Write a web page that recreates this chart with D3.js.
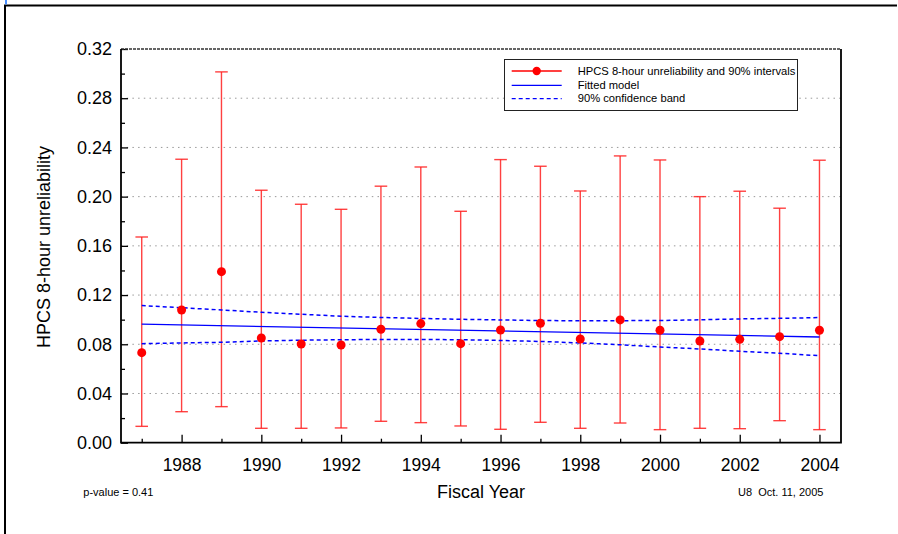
<!DOCTYPE html>
<html>
<head>
<meta charset="utf-8">
<script src="https://cdn.jsdelivr.net/npm/d3@7"></script>
<style>
  body { margin: 0; background: #fff; }
  svg { display: block; font-family: "Liberation Sans", Arial, sans-serif; }
</style>
</head>
<body>
<svg id="chart" width="898" height="534"></svg>
<script>
// values
var years = [1987, 1988, 1989, 1990, 1991, 1992, 1993, 1994, 1995,
             1996, 1997, 1998, 1999, 2000, 2001, 2002, 2003, 2004];
var estimates = [0.0732, 0.1079, 0.1390, 0.0851, 0.0802, 0.0794, 0.0922, 0.0968, 0.0805,
                 0.0916, 0.0971, 0.0843, 0.0998, 0.0914, 0.0827, 0.0840, 0.0862, 0.0914];
var upper90 = [0.1672, 0.2304, 0.3014, 0.2052, 0.1938, 0.1897, 0.2085, 0.2241, 0.1881,
               0.2301, 0.2247, 0.2046, 0.2331, 0.2298, 0.2000, 0.2044, 0.1906, 0.2296];
var lower90 = [0.0133, 0.0252, 0.0293, 0.0117, 0.0117, 0.0120, 0.0174, 0.0163, 0.0136,
               0.0109, 0.0166, 0.0117, 0.0160, 0.0106, 0.0117, 0.0114, 0.0179, 0.0106];
var fitYears = [1987, 2004];
var fitValues = [0.0963, 0.0859];
var bandUpper = [0.1115, 0.1097, 0.1079, 0.1060, 0.1044, 0.1028, 0.1018, 0.1010, 0.1003,
                 0.0998, 0.0993, 0.0991, 0.0992, 0.0993, 0.0999, 0.1006, 0.1011, 0.1017];
var bandLower = [0.0805, 0.0811, 0.0816, 0.0827, 0.0833, 0.0837, 0.0839, 0.0839, 0.0837,
                 0.0831, 0.0823, 0.0811, 0.0796, 0.0778, 0.0762, 0.0743, 0.0727, 0.0707];
var yTicks = [0, 0.04, 0.08, 0.12, 0.16, 0.20, 0.24, 0.28, 0.32];
var yMinor = [0.02, 0.06, 0.10, 0.14, 0.18, 0.22, 0.26, 0.30];
var xLabelled = [1988, 1990, 1992, 1994, 1996, 1998, 2000, 2002, 2004];
var legendLabels = ["HPCS 8-hour unreliability and 90% intervals", "Fitted model", "90% confidence band"];

var svg = d3.select("#chart");

var plotLeft = 121, plotRight = 841, plotTop = 49, plotBottom = 442.7;

var x = d3.scaleLinear().domain([1986.48, 2004.54]).range([plotLeft, plotRight]);
var y = d3.scaleLinear().domain([0, 0.32]).range([plotBottom, plotTop]);

// outer frame
svg.append("path")
    .attr("d", "M5,534V5.5H897")
    .attr("fill", "none")
    .attr("stroke", "#000")
    .attr("stroke-width", 2);
svg.append("line")
    .attr("x1", 6).attr("x2", 6).attr("y1", 0).attr("y2", 4.5)
    .attr("stroke", "#4a90ff").attr("stroke-width", 2);

// grid
svg.append("g")
  .selectAll("line")
    .data(yTicks.slice(1, -1))
  .enter().append("line")
    .attr("x1", plotLeft).attr("x2", plotRight)
    .attr("y1", function(d) { return y(d); })
    .attr("y2", function(d) { return y(d); })
    .attr("stroke", "#999")
    .attr("stroke-width", 1)
    .attr("stroke-dasharray", "1.5,4.2");

// axes
var yAxis = svg.append("g")
    .attr("transform", "translate(" + plotLeft + ",0)")
    .call(d3.axisLeft(y).tickValues(yTicks).tickSize(-7).tickPadding(9)
      .tickFormat(d3.format(".2f")));
yAxis.select(".domain").remove();
yAxis.selectAll("text").style("font-size", "18px").attr("fill", "#000");
yAxis.selectAll("line").attr("stroke-width", 1.3);

var yAxisMinor = svg.append("g")
    .attr("transform", "translate(" + plotLeft + ",0)")
    .call(d3.axisLeft(y).tickValues(yMinor).tickSize(-4).tickFormat(""));
yAxisMinor.select(".domain").remove();
yAxisMinor.selectAll("line").attr("stroke-width", 1.3);

var xAxis = svg.append("g")
    .attr("transform", "translate(0," + plotBottom + ")")
    .call(d3.axisBottom(x).tickValues(xLabelled).tickSize(-8).tickPadding(15.6)
      .tickFormat(d3.format("d")));
xAxis.select(".domain").remove();
xAxis.selectAll("text").style("font-size", "17.5px").attr("fill", "#000");
xAxis.selectAll("line").attr("stroke-width", 1.3);

var xAxisMinor = svg.append("g")
    .attr("transform", "translate(0," + plotBottom + ")")
    .call(d3.axisBottom(x).tickValues(years.filter(function(d) { return d % 2; }))
      .tickSize(-4).tickFormat(""));
xAxisMinor.select(".domain").remove();
xAxisMinor.selectAll("line").attr("stroke-width", 1.3);

// plot border
svg.append("line")
    .attr("x1", plotLeft).attr("x2", plotRight).attr("y1", plotTop).attr("y2", plotTop)
    .attr("stroke", "#333").attr("stroke-width", 1.3).attr("stroke-dasharray", "3,1");
svg.append("path")
    .attr("d", "M" + plotLeft + "," + plotTop + "V" + plotBottom + "H" + plotRight + "V" + plotTop)
    .attr("fill", "none")
    .attr("stroke", "#000")
    .attr("stroke-width", 1.8);

// error bars
var bars = svg.append("g")
  .selectAll("g")
    .data(years)
  .enter().append("g")
    .attr("stroke", "#ff2020")
    .attr("stroke-width", 1.4)
    .attr("stroke-opacity", 0.85);

bars.append("line")
    .attr("x1", function(d) { return x(d); })
    .attr("x2", function(d) { return x(d); })
    .attr("y1", function(d, i) { return y(upper90[i]); })
    .attr("y2", function(d, i) { return y(lower90[i]); });
bars.append("line")
    .attr("x1", function(d) { return x(d) - 6.3; })
    .attr("x2", function(d) { return x(d) + 6.3; })
    .attr("y1", function(d, i) { return y(upper90[i]); })
    .attr("y2", function(d, i) { return y(upper90[i]); });
bars.append("line")
    .attr("x1", function(d) { return x(d) - 6.3; })
    .attr("x2", function(d) { return x(d) + 6.3; })
    .attr("y1", function(d, i) { return y(lower90[i]); })
    .attr("y2", function(d, i) { return y(lower90[i]); });

// fitted model and band
svg.append("path")
    .datum(fitYears)
    .attr("fill", "none")
    .attr("stroke", "#0000ff")
    .attr("stroke-width", 1.3)
    .attr("d", d3.line()
      .x(function(d) { return x(d); })
      .y(function(d, i) { return y(fitValues[i]); }));

[bandUpper, bandLower].forEach(function(band) {
  svg.append("path")
      .datum(years)
      .attr("fill", "none")
      .attr("stroke", "#0000ff")
      .attr("stroke-width", 1.5)
      .attr("stroke-dasharray", "4,3")
      .attr("d", d3.line()
        .x(function(d) { return x(d); })
        .y(function(d, i) { return y(band[i]); }));
});

// points
svg.append("g")
  .selectAll("circle")
    .data(years)
  .enter().append("circle")
    .attr("cx", function(d) { return x(d); })
    .attr("cy", function(d, i) { return y(estimates[i]); })
    .attr("r", 4.5)
    .attr("fill", "#ff0000");

// legend
var legend = svg.append("g");
legend.append("rect")
    .attr("x", 504.5).attr("y", 59.5)
    .attr("width", 293).attr("height", 51)
    .attr("fill", "#fff")
    .attr("stroke", "#222")
    .attr("stroke-width", 1);

var rowY = [71, 85.3, 98.7];
var item = legend.selectAll(".item")
    .data(legendLabels)
  .enter().append("g")
    .attr("class", "item")
    .attr("transform", function(d, i) { return "translate(0," + rowY[i] + ")"; });

item.append("line")
    .attr("x1", 511.7).attr("x2", 561.7)
    .attr("stroke", function(d, i) { return i == 0 ? "#ff0000" : "#0000ff"; })
    .attr("stroke-width", 1.3)
    .attr("stroke-dasharray", function(d, i) { return i == 2 ? "4,3" : null; });
item.filter(function(d, i) { return i == 0; })
  .append("circle")
    .attr("cx", 536.7).attr("r", 4.2).attr("fill", "#ff0000");
item.append("text")
    .attr("x", 577.7)
    .attr("y", 3.5)
    .style("font-size", "11.2px")
    .text(function(d) { return d; });

// titles and notes
svg.append("text")
    .attr("x", 481).attr("y", 498)
    .attr("text-anchor", "middle")
    .style("font-size", "18px")
    .text("Fiscal Year");
svg.append("text")
    .attr("transform", "translate(44,247)rotate(-90)")
    .attr("text-anchor", "middle")
    .attr("dy", "0.35em")
    .style("font-size", "18px")
    .text("HPCS 8-hour unreliability");
svg.append("text")
    .attr("x", 83.3).attr("y", 495.5)
    .style("font-size", "11px")
    .text("p-value = 0.41");
svg.append("text")
    .attr("x", 738).attr("y", 495.5)
    .style("font-size", "11px")
    .style("white-space", "pre")
    .text("U8  Oct. 11, 2005");
</script>
</body>
</html>
